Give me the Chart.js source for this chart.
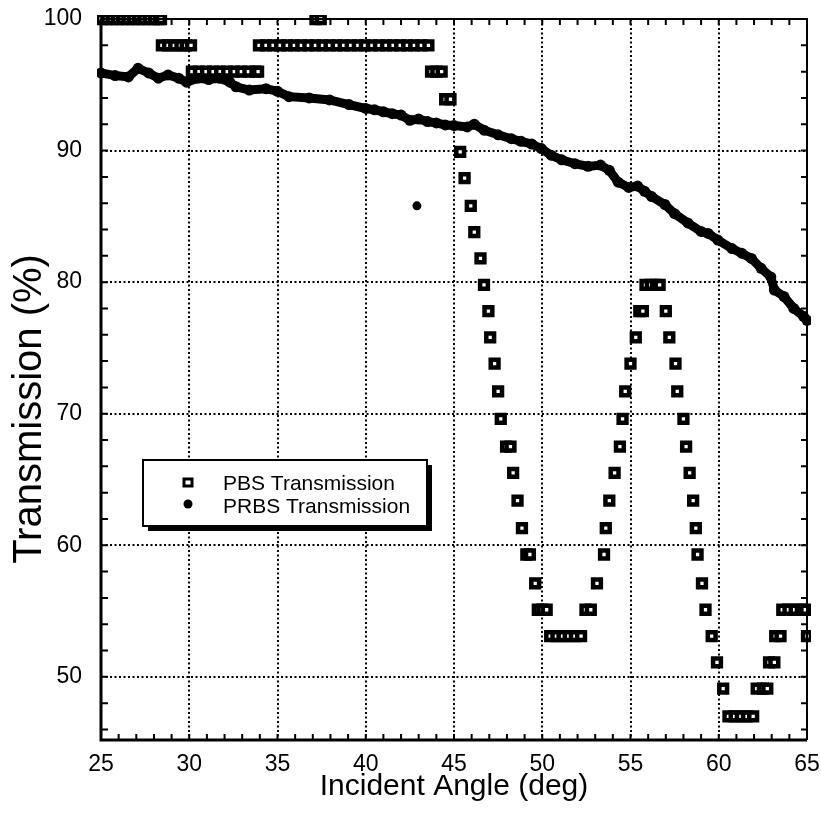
<!DOCTYPE html>
<html>
<head>
<meta charset="utf-8">
<script src="https://cdn.jsdelivr.net/npm/chart.js@4.4.0/dist/chart.umd.min.js"></script>
<style>
  html, body { margin: 0; padding: 0; background: #fff; }
</style>
</head>
<body>
<canvas id="myChart" width="821" height="818"></canvas>
<script>
const xTicks = [25, 30, 35, 40, 45, 50, 55, 60, 65];
const yTicks = [50, 60, 70, 80, 90, 100];

// PBS transmission (runs of overlapping squares)
const pbsAngle = [
  25.0, 25.3, 25.6, 25.9, 26.2, 26.5, 26.8, 27.1, 27.4, 27.7, 28.0, 28.3, 28.4,
  37.15, 37.45,
  28.45, 28.8, 29.15, 29.5, 29.8, 30.1,
  33.95, 34.35, 34.75, 35.15, 35.55, 35.95, 36.35, 36.75, 37.15, 37.55, 37.95, 38.35, 38.75,
  39.15, 39.55, 39.95, 40.35, 40.75, 41.15, 41.55, 41.95, 42.35, 42.75, 43.15, 43.55,
  30.15, 30.55, 30.95, 31.35, 31.75, 32.15, 32.55, 32.95, 33.35, 33.75, 33.9,
  43.7, 44.0, 44.3,
  44.5, 44.8,
  45.35, 45.6, 45.95, 46.15, 46.5, 46.7, 46.95, 47.05, 47.3, 47.5, 47.65, 47.95, 48.2,
  48.35, 48.6, 48.85, 49.1, 49.3, 49.6, 49.75, 50.0, 50.25,
  50.45, 50.8, 51.15, 51.5, 51.85, 52.2,
  52.45, 52.75, 53.1, 53.5, 53.6, 53.8, 54.1, 54.4, 54.55, 54.7, 55.0, 55.3, 55.5, 55.7,
  55.85, 56.15, 56.45, 56.65,
  57.0, 57.2, 57.55, 57.65, 58.0, 58.15, 58.35, 58.55, 58.7, 58.8, 59.05, 59.25, 59.6, 59.9, 60.25,
  60.55, 60.9, 61.25, 61.6, 61.95,
  62.15, 62.5, 62.75, 62.85, 63.15, 63.2, 63.5,
  63.6, 63.95, 64.3, 64.65, 64.9, 65.0
];
const pbsValue = [
  100, 100, 100, 100, 100, 100, 100, 100, 100, 100, 100, 100, 100,
  100, 100,
  98, 98, 98, 98, 98, 98,
  98, 98, 98, 98, 98, 98, 98, 98, 98, 98, 98, 98, 98,
  98, 98, 98, 98, 98, 98, 98, 98, 98, 98, 98, 98,
  96, 96, 96, 96, 96, 96, 96, 96, 96, 96, 96,
  96, 96, 96,
  93.9, 93.9,
  89.9, 87.9, 85.8, 83.8, 81.8, 79.8, 77.8, 75.8, 73.8, 71.7, 69.6, 67.5, 67.5,
  65.5, 63.4, 61.3, 59.3, 59.3, 57.1, 55.1, 55.1, 55.1,
  53.1, 53.1, 53.1, 53.1, 53.1, 53.1,
  55.1, 55.1, 57.1, 59.3, 61.3, 63.4, 65.5, 67.5, 69.6, 71.7, 73.8, 75.8, 77.8, 77.8,
  79.8, 79.8, 79.8, 79.8,
  77.8, 75.8, 73.8, 71.7, 69.6, 67.5, 65.5, 63.4, 61.3, 59.3, 57.1, 55.1, 53.1, 51.1, 49.1,
  47.0, 47.0, 47.0, 47.0, 47.0,
  49.1, 49.1, 49.1, 51.1, 51.1, 53.1, 53.1,
  55.1, 55.1, 55.1, 55.1, 55.1, 53.1
];

// PRBS transmission, centre of the dense trace
const prbsAngle = [
  25.0, 25.8, 26.55, 27.1, 27.7, 28.25, 28.8, 29.4, 29.85, 30.5, 31.1, 31.7, 32.3, 32.65,
  33.4, 34.35, 35.0, 35.65, 36.8, 37.95, 39.05, 40.0, 40.5, 41.0, 41.5, 42.0, 42.5, 43.0,
  43.5, 44.0, 44.5, 45.0, 45.75, 46.15, 46.7, 47.5, 48.25, 48.8, 49.4, 49.95, 50.5, 51.1,
  51.85, 52.6, 53.3, 53.8, 54.3, 54.9, 55.4, 55.8, 56.2, 56.95, 57.5, 58.25, 59.0, 59.4,
  59.95, 60.75, 61.3, 61.85, 62.4, 62.95, 63.15, 63.7, 64.25, 64.8, 65.0
];
const prbsValue = [
  95.9, 95.7, 95.6, 96.25, 95.9, 95.5, 95.75, 95.5, 95.2, 95.5, 95.4, 95.5, 95.2, 94.85,
  94.6, 94.7, 94.5, 94.1, 94.0, 93.85, 93.5, 93.2, 93.1, 92.95, 92.8, 92.7, 92.3, 92.4,
  92.2, 92.1, 91.95, 91.9, 91.8, 92.0, 91.55, 91.2, 90.9, 90.7, 90.5, 90.15, 89.65, 89.3,
  89.0, 88.8, 88.9, 88.5, 87.6, 87.2, 87.3, 86.9, 86.5, 85.9, 85.2, 84.5, 83.85, 83.7,
  83.2, 82.55, 82.2, 81.8, 81.05, 80.4, 79.4, 78.9, 78.0, 77.4, 77.1
];
const prbsStrayAngle = [42.9];
const prbsStrayValue = [85.8];

const toPoints = (xs, ys) => xs.map((v, i) => ({ x: v, y: ys[i] }));

const FONT = '"Liberation Sans", Arial, sans-serif';
Chart.defaults.font.family = FONT;
Chart.defaults.color = '#000';

const framePlugin = {
  id: 'frame',
  afterDatasetsDraw(chart) {
    const { ctx, chartArea: a, scales: { x, y } } = chart;
    ctx.save();
    ctx.strokeStyle = '#000';

    // small inward ticks on all four sides
    ctx.lineWidth = 2;
    ctx.beginPath();
    for (let v = 26; v < 65; v++) {
      const px = x.getPixelForValue(v);
      ctx.moveTo(px, a.bottom); ctx.lineTo(px, a.bottom - 6);
      ctx.moveTo(px, a.top); ctx.lineTo(px, a.top + 6);
    }
    for (let v = 46; v < 100; v += 2) {
      const py = y.getPixelForValue(v);
      ctx.moveTo(a.left, py); ctx.lineTo(a.left + 7, py);
      ctx.moveTo(a.right, py); ctx.lineTo(a.right - 6, py);
    }
    ctx.stroke();

    // frame: heavy left and bottom, lighter top and right
    ctx.lineWidth = 3;
    ctx.beginPath();
    ctx.moveTo(a.left, a.top); ctx.lineTo(a.left, a.bottom); ctx.lineTo(a.right, a.bottom);
    ctx.stroke();
    ctx.lineWidth = 2;
    ctx.beginPath();
    ctx.moveTo(a.left, a.top); ctx.lineTo(a.right, a.top); ctx.lineTo(a.right, a.bottom);
    ctx.stroke();

    // y axis title, a bit below the middle as in the original
    ctx.fillStyle = '#000';
    ctx.save();
    ctx.translate(30, 409);
    ctx.rotate(-Math.PI / 2);
    ctx.font = '40px ' + FONT;
    ctx.textAlign = 'center';
    ctx.textBaseline = 'middle';
    ctx.fillText('Transmission (%)', 0, 0);
    ctx.restore();

    // legend box with drop shadow
    const bx = 143, by = 460, bw = 284, bh = 66;
    ctx.fillRect(bx + 5, by + 5, bw, bh);
    ctx.fillStyle = '#fff';
    ctx.fillRect(bx, by, bw, bh);
    ctx.lineWidth = 2;
    ctx.strokeRect(bx, by, bw, bh);

    ctx.lineWidth = 3;
    ctx.strokeRect(184, 479, 8, 7);
    ctx.fillStyle = '#000';
    ctx.beginPath();
    ctx.arc(188, 504, 4.5, 0, Math.PI * 2);
    ctx.fill();

    ctx.font = '21px ' + FONT;
    ctx.textBaseline = 'alphabetic';
    ctx.fillText('PBS Transmission', 223, 490);
    ctx.fillText('PRBS Transmission', 223, 513);
    ctx.restore();
  }
};

const noPad = (s) => { s.paddingTop = 0; s.paddingBottom = 0; s.paddingLeft = 0; s.paddingRight = 0; };

const ctx = document.getElementById('myChart').getContext('2d');

new Chart(ctx, {
  type: 'scatter',
  data: {
    datasets: [
      {
        label: 'PRBS Transmission',
        data: toPoints(prbsAngle, prbsValue),
        showLine: true,
        borderColor: '#000',
        borderWidth: 9,
        backgroundColor: '#000',
        pointRadius: 5.5,
        pointBorderWidth: 0,
        tension: 0,
        clip: 4
      },
      {
        label: 'PRBS stray',
        data: toPoints(prbsStrayAngle, prbsStrayValue),
        backgroundColor: '#000',
        pointRadius: 4.5,
        pointBorderWidth: 0
      },
      {
        label: 'PBS Transmission',
        data: toPoints(pbsAngle, pbsValue),
        pointStyle: 'rect',
        pointRadius: 5.5,
        borderColor: '#000',
        borderWidth: 4.5,
        backgroundColor: '#fff',
        clip: 4
      }
    ]
  },
  options: {
    responsive: false,
    animation: false,
    devicePixelRatio: 1,
    layout: { padding: { top: 19, right: 14, left: 0, bottom: 0 } },
    plugins: {
      legend: { display: false },
      tooltip: { enabled: false }
    },
    scales: {
      x: {
        type: 'linear',
        min: 25,
        max: 65,
        afterBuildTicks: (s) => { s.ticks = xTicks.map(v => ({ value: v })); },
        afterFit: (s) => { s.height = 78; noPad(s); },
        ticks: { font: { size: 23 }, padding: 11, maxRotation: 0, autoSkip: false },
        grid: { color: '#000', lineWidth: 2, drawTicks: false },
        border: { display: false, dash: [2, 2.5] },
        title: {
          display: true,
          text: 'Incident Angle (deg)',
          font: { size: 30 },
          padding: { top: 0, bottom: 13 }
        }
      },
      y: {
        type: 'linear',
        min: 45.2,
        max: 100,
        afterBuildTicks: (s) => { s.ticks = yTicks.map(v => ({ value: v })); },
        afterFit: (s) => { s.width = 101; noPad(s); },
        ticks: { font: { size: 23 }, padding: 19 },
        grid: { color: '#000', lineWidth: 2, drawTicks: false },
        border: { display: false, dash: [2, 2.5] },
        title: { display: false }
      }
    }
  },
  plugins: [framePlugin]
});
</script>
</body>
</html>
